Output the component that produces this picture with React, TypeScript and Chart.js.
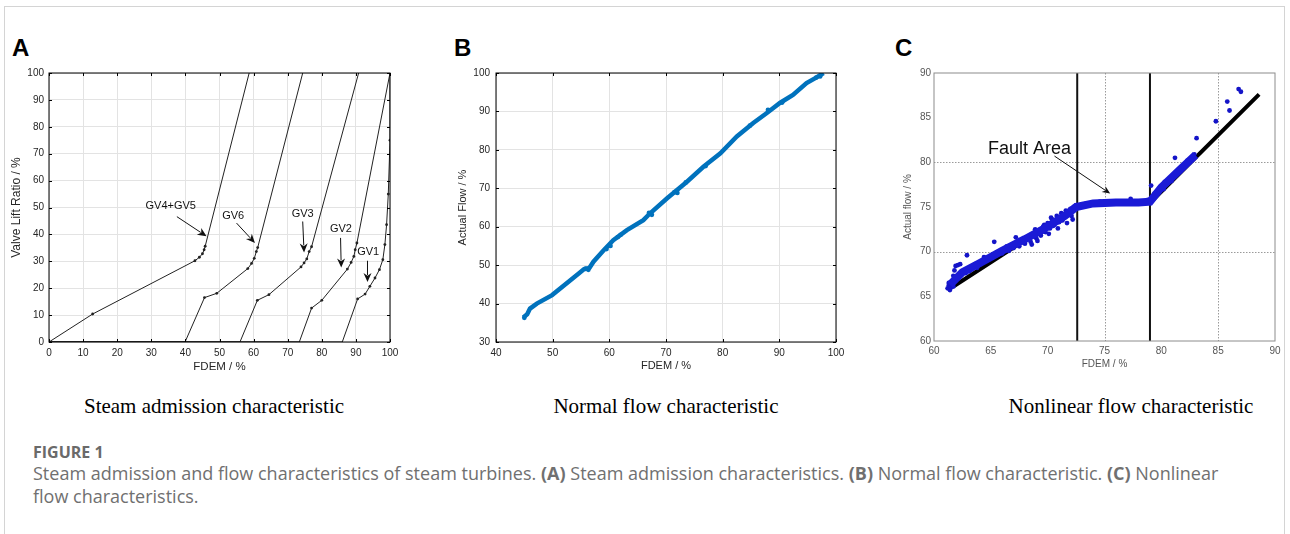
import React, { useEffect, useRef } from 'react';
import { Chart, registerables } from 'chart.js';

Chart.register(...registerables);

const SANS = '"Liberation Sans", Arial, Helvetica, sans-serif';

// ---------- Panel A : steam admission characteristic ----------
const A_TICKS = [0, 10, 20, 30, 40, 50, 60, 70, 80, 90, 100];
const A_GV45_X = [0, 12.8, 42.8, 44.1, 45.0, 45.5, 45.8, 58.7];
const A_GV45_Y = [0, 10.4, 30.2, 31.5, 32.8, 34.3, 35.6, 100];
const A_GV6_X = [0, 39.9, 45.6, 49.2, 58.3, 59.4, 60.2, 60.8, 61.2, 74.4];
const A_GV6_Y = [0, 0, 16.5, 18.1, 27.3, 29.2, 31.1, 33.6, 35.1, 100];
const A_GV3_X = [0, 56.0, 61.1, 64.5, 73.9, 74.8, 75.6, 76.3, 77.0, 90.8];
const A_GV3_Y = [0, 0, 15.5, 17.6, 27.9, 29.4, 30.9, 33.6, 35.4, 100];
const A_GV2_X = [0, 73.4, 77.0, 80.0, 87.5, 88.6, 89.4, 89.8, 90.3, 100];
const A_GV2_Y = [0, 0, 12.6, 15.5, 27.1, 29.6, 31.8, 34.3, 36.8, 100];
const A_GV1_X = [0, 86.0, 90.5, 92.7, 94.1, 95.6, 96.9, 97.9, 98.5, 99.0, 99.5, 100, 100];
const A_GV1_Y = [0, 0, 16.0, 17.8, 20.7, 23.8, 26.9, 30.6, 36.2, 43.6, 55.0, 75.0, 100];

const A_LABELS = ['GV4+GV5', 'GV6', 'GV3', 'GV2', 'GV1'];
const A_LABEL_X = [35.7, 54.0, 74.4, 85.6, 93.6];
const A_LABEL_Y = [50.4, 46.7, 47.7, 42.1, 33.5];
const A_ARROW_FROM_X = [37.5, 55.0, 74.4, 85.5, 93.4];
const A_ARROW_FROM_Y = [46.6, 44.2, 44.8, 38.7, 30.2];
const A_ARROW_TO_X = [46.2, 60.4, 74.8, 85.7, 93.4];
const A_ARROW_TO_Y = [39.3, 36.8, 33.3, 27.7, 22.3];

// ---------- Panel B : normal flow characteristic ----------
const B_X_TICKS = [40, 50, 60, 70, 80, 90, 100];
const B_Y_TICKS = [30, 40, 50, 60, 70, 80, 90, 100];
const B_FLOW_X = [44.8, 45.5, 46.0, 47.2, 49.9, 54.6, 55.5, 56.5, 57.2, 59.0, 60.7, 63.1, 66.0, 67.2, 70.2, 73.7, 76.6, 79.6, 82.5, 85.4, 87.8, 90.1, 92.4, 94.8, 96.5, 97.8];
const B_FLOW_Y = [36.4, 37.2, 38.7, 40.0, 42.2, 47.8, 48.9, 49.3, 50.9, 53.9, 56.5, 59.1, 61.7, 63.5, 67.4, 71.7, 75.6, 79.1, 83.5, 87.0, 89.6, 92.2, 94.3, 97.4, 98.8, 100];
const B_FUZZ_X = [45.0, 55.8, 56.3, 59.5, 60.2, 61.5, 62.0, 67.0, 67.5, 71.5, 72.0, 73.5, 77.0, 84.8, 88.0, 90.5, 96.5, 97.2];
const B_FUZZ_Y = [36.3, 49.1, 48.8, 54.2, 55.0, 57.3, 57.9, 63.6, 63.1, 69.0, 68.8, 71.5, 75.8, 86.3, 90.4, 92.3, 98.8, 99.1];

// ---------- Panel C : nonlinear flow characteristic ----------
const C_TICKS = [60, 65, 70, 75, 80, 85, 90];
const C_GRID_X = [75, 85];
const C_GRID_Y = [70, 80];
const C_SCATTER_X = [
  61.2, 61.3, 61.4, 61.5, 61.6, 61.3, 61.7, 61.8, 61.7, 61.8, 61.9, 62.1, 62.3, 62.0, 62.2, 62.5, 62.8, 62.9, 63.1, 63.3,
  63.5, 63.8, 64.0, 64.2, 64.5, 64.7, 65.0, 65.2, 65.3, 65.5, 65.8, 66.0, 66.3, 66.6, 66.8, 67.0, 67.2, 67.3, 67.5, 67.8,
  68.0, 68.3, 68.5, 68.8, 69.0, 69.2, 69.4, 69.6, 69.8, 70.0, 70.2, 70.4, 70.6, 70.8, 71.0, 71.2, 71.4, 71.6, 71.8, 72.0,
  72.2, 72.3, 72.5, 72.8, 73.1, 73.4, 73.7, 74.0, 74.3, 74.6, 74.9, 75.2, 75.5, 75.8, 76.1, 76.4, 76.7, 77.0, 77.3, 77.6,
  77.9, 78.2, 78.5, 78.8, 79.0, 79.1, 79.2, 79.4, 79.6, 79.8, 80.0, 80.2, 80.3, 80.5, 80.7, 80.9, 81.0, 81.2, 81.3, 81.5,
  81.7, 81.9, 82.1, 82.3, 82.5, 82.7, 82.9, 83.1, 84.8, 85.8, 86.0, 86.8, 87.0,
  68.6, 69.1, 69.5, 70.1, 70.5, 70.9, 71.3, 71.7, 72.1, 68.9, 69.7, 70.3, 63.6, 64.4, 66.4, 67.6
];
const C_SCATTER_Y = [
  65.9, 66.2, 65.7, 66.0, 66.3, 66.5, 66.1, 66.7, 67.3, 67.9, 68.4, 68.5, 68.6, 67.0, 67.4, 67.6, 67.6, 69.6, 67.8, 68.0,
  68.3, 68.2, 68.6, 68.9, 69.0, 69.2, 69.4, 69.7, 71.1, 69.6, 70.0, 69.8, 70.3, 70.1, 70.6, 70.4, 71.6, 70.9, 70.6, 71.2,
  70.9, 71.5, 71.1, 71.9, 71.5, 72.4, 71.8, 72.8, 72.2, 73.2, 72.6, 73.6, 73.0, 74.0, 73.3, 74.3, 73.9, 74.6, 74.1, 74.8,
  73.6, 75.0, 75.2, 75.1, 75.3, 75.4, 75.3, 75.5, 75.4, 75.6, 75.5, 75.6, 75.5, 75.6, 75.4, 75.6, 75.5, 75.5, 75.9, 75.4,
  75.5, 75.6, 75.4, 75.8, 75.5, 77.4, 76.0, 76.5, 76.6, 77.0, 77.3, 77.0, 77.8, 77.6, 78.1, 77.9, 78.5, 80.5, 78.8, 79.1,
  79.0, 79.6, 79.8, 80.2, 80.0, 80.6, 80.9, 82.7, 84.6, 86.8, 85.8, 88.2, 87.9,
  70.8, 71.2, 72.2, 72.0, 72.9, 72.6, 73.5, 73.2, 74.0, 72.5, 73.0, 73.8, 68.6, 69.4, 70.6, 71.3
];
const C_BAND_X = [61.4, 62.5, 64.0, 66.0, 68.0, 70.0, 71.5, 72.5, 74.0, 76.0, 78.0, 79.0, 80.0, 81.5, 83.0];
const C_BAND_Y = [66.3, 67.7, 68.7, 70.1, 71.4, 72.8, 74.0, 75.0, 75.4, 75.5, 75.5, 75.6, 77.2, 79.0, 80.8];
const C_FIT_X = [61.7, 72.5, 74.0, 76.0, 79.0, 88.6];
const C_FIT_Y = [66.1, 75.0, 75.3, 75.4, 75.45, 87.6];
const C_BOUNDARY_X = [72.6, 79.0];
const C_LABEL = ['Fault Area'];
const C_LABEL_X = [68.4];
const C_LABEL_Y = [81.5];
const C_ARROW_FROM_X = [70.6];
const C_ARROW_FROM_Y = [80.7];
const C_ARROW_TO_X = [75.5];
const C_ARROW_TO_Y = [76.5];

const pts = (xs: number[], ys: number[]) => xs.map((x, i) => ({ x, y: ys[i] }));

// ---------- plugins ----------
const boxPlugin = (id: string, color: string, lw: number, tickLen: number) => ({
  id,
  afterDatasetsDraw(chart: any) {
    const { ctx, chartArea: a, scales } = chart;
    ctx.save();
    ctx.strokeStyle = color;
    ctx.lineWidth = lw;
    ctx.strokeRect(a.left, a.top, a.right - a.left, a.bottom - a.top);
    if (tickLen > 0) {
      ctx.lineWidth = 1;
      ctx.beginPath();
      scales.x.ticks.forEach((t: any) => {
        const p = Math.round(scales.x.getPixelForValue(t.value)) + 0.5;
        ctx.moveTo(p, a.bottom); ctx.lineTo(p, a.bottom - tickLen);
        ctx.moveTo(p, a.top); ctx.lineTo(p, a.top + tickLen);
      });
      scales.y.ticks.forEach((t: any) => {
        const p = Math.round(scales.y.getPixelForValue(t.value)) + 0.5;
        ctx.moveTo(a.left, p); ctx.lineTo(a.left + tickLen, p);
        ctx.moveTo(a.right, p); ctx.lineTo(a.right - tickLen, p);
      });
      ctx.stroke();
    }
    ctx.restore();
  },
});

const dottedGridPlugin = (id: string, gx: number[], gy: number[]) => ({
  id,
  beforeDatasetsDraw(chart: any) {
    const { ctx, chartArea: a, scales } = chart;
    ctx.save();
    ctx.strokeStyle = '#9a9a9a';
    ctx.lineWidth = 1;
    ctx.setLineDash([1.5, 1.5]);
    ctx.beginPath();
    gx.forEach((v) => {
      const p = Math.round(scales.x.getPixelForValue(v)) + 0.5;
      ctx.moveTo(p, a.top); ctx.lineTo(p, a.bottom);
    });
    gy.forEach((v) => {
      const p = Math.round(scales.y.getPixelForValue(v)) + 0.5;
      ctx.moveTo(a.left, p); ctx.lineTo(a.right, p);
    });
    ctx.stroke();
    ctx.restore();
  },
});

const arrowPlugin = (
  id: string,
  labels: string[], tx: number[], ty: number[],
  fx: number[], fy: number[], ex: number[], ey: number[],
  font: string, headLen: number, headHalf: number
) => ({
  id,
  afterDatasetsDraw(chart: any) {
    const { ctx, scales: { x, y } } = chart;
    ctx.save();
    ctx.fillStyle = '#111';
    ctx.strokeStyle = '#111';
    ctx.lineWidth = 1;
    ctx.font = font;
    ctx.textAlign = 'center';
    ctx.textBaseline = 'middle';
    labels.forEach((l, i) => {
      ctx.fillText(l, x.getPixelForValue(tx[i]), y.getPixelForValue(ty[i]));
      const x1 = x.getPixelForValue(fx[i]);
      const y1 = y.getPixelForValue(fy[i]);
      const x2 = x.getPixelForValue(ex[i]);
      const y2 = y.getPixelForValue(ey[i]);
      const ang = Math.atan2(y2 - y1, x2 - x1);
      const bx = x2 - Math.cos(ang) * headLen;
      const by = y2 - Math.sin(ang) * headLen;
      ctx.beginPath();
      ctx.moveTo(x1, y1);
      ctx.lineTo(bx + Math.cos(ang) * 2, by + Math.sin(ang) * 2);
      ctx.stroke();
      ctx.beginPath();
      ctx.moveTo(x2, y2);
      ctx.lineTo(bx + Math.sin(ang) * headHalf, by - Math.cos(ang) * headHalf);
      ctx.lineTo(bx + Math.cos(ang) * headLen * 0.3, by + Math.sin(ang) * headLen * 0.3);
      ctx.lineTo(bx - Math.sin(ang) * headHalf, by + Math.cos(ang) * headHalf);
      ctx.closePath();
      ctx.fill();
    });
    ctx.restore();
  },
});

// ---------- shared scale builder ----------
const linScale = (opts: {
  min: number; max: number; step: number; ticks: number[];
  title: string; titleSize: number; titlePad: number; tickColor: string; titleColor: string;
  tickSize: number; tickPad: number; fit: (s: any) => void; grid: boolean;
}) => ({
  type: 'linear',
  min: opts.min,
  max: opts.max,
  afterBuildTicks: (s: any) => { s.ticks = opts.ticks.map((v) => ({ value: v })); },
  afterFit: opts.fit,
  border: { display: false },
  grid: { display: opts.grid, color: '#e3e3e3', lineWidth: 1, drawTicks: false },
  ticks: {
    stepSize: opts.step, autoSkip: false, maxRotation: 0, minRotation: 0, padding: opts.tickPad,
    color: opts.tickColor, font: { family: SANS, size: opts.tickSize },
  },
  title: {
    display: true, text: opts.title, color: opts.titleColor,
    font: { family: SANS, size: opts.titleSize },
    padding: { top: opts.titlePad, bottom: opts.titlePad },
  },
});

const baseOptions = (scales: any, pad: any) => ({
  animation: false,
  responsive: false,
  devicePixelRatio: 1,
  events: [],
  layout: { padding: pad },
  plugins: { legend: { display: false }, tooltip: { enabled: false } },
  scales,
});

// ---------- configs ----------
const lineDs = (xs: number[], ys: number[], color: string, width: number, dots: boolean) => ({
  type: 'line',
  data: pts(xs, ys),
  showLine: true,
  borderColor: color,
  borderWidth: width,
  backgroundColor: color,
  pointRadius: dots ? (c: any) => (c.raw && c.raw.y > 0 && c.raw.y < 100 ? 1.4 : 0) : 0,
  pointBorderWidth: 0,
  tension: 0,
  fill: false,
});

const configA = () => ({
  type: 'scatter',
  data: {
    datasets: [
      lineDs(A_GV45_X, A_GV45_Y, '#222', 1, true),
      lineDs(A_GV6_X, A_GV6_Y, '#222', 1, true),
      lineDs(A_GV3_X, A_GV3_Y, '#222', 1, true),
      lineDs(A_GV2_X, A_GV2_Y, '#222', 1, true),
      lineDs(A_GV1_X, A_GV1_Y, '#222', 1, true),
    ],
  },
  options: baseOptions(
    {
      x: linScale({ min: 0, max: 100, step: 10, ticks: A_TICKS, title: 'FDEM / %', titleSize: 11.5, titlePad: 6, tickColor: '#262626', titleColor: '#262626', tickSize: 10, tickPad: 5, fit: (s: any) => { s.height = 38; }, grid: true }),
      y: linScale({ min: 0, max: 100, step: 10, ticks: A_TICKS, title: 'Valve Lift Ratio / %', titleSize: 12, titlePad: 9, tickColor: '#262626', titleColor: '#262626', tickSize: 10, tickPad: 5, fit: (s: any) => { s.width = 49; }, grid: true }),
    },
    { left: 0, top: 13, right: 20, bottom: 0 }
  ),
  plugins: [
    boxPlugin('boxA', '#000', 1, 3),
    arrowPlugin('annA', A_LABELS, A_LABEL_X, A_LABEL_Y, A_ARROW_FROM_X, A_ARROW_FROM_Y, A_ARROW_TO_X, A_ARROW_TO_Y, `11px ${SANS}`, 9, 4),
  ],
});

const configB = () => ({
  type: 'scatter',
  data: {
    datasets: [
      lineDs(B_FLOW_X, B_FLOW_Y, '#0072BD', 4.5, false),
      {
        type: 'scatter',
        data: pts(B_FUZZ_X, B_FUZZ_Y),
        backgroundColor: '#0072BD',
        borderWidth: 0,
        pointRadius: 2.4,
      },
    ],
  },
  options: baseOptions(
    {
      x: linScale({ min: 40, max: 100, step: 10, ticks: B_X_TICKS, title: 'FDEM / %', titleSize: 11, titlePad: 7, tickColor: '#262626', titleColor: '#262626', tickSize: 10, tickPad: 5, fit: (s: any) => { s.height = 38; }, grid: true }),
      y: linScale({ min: 30, max: 100, step: 10, ticks: B_Y_TICKS, title: 'Actual Flow / %', titleSize: 11, titlePad: 16, tickColor: '#262626', titleColor: '#262626', tickSize: 10, tickPad: 6, fit: (s: any) => { s.width = 56; }, grid: true }),
    },
    { left: 0, top: 13, right: 14, bottom: 0 }
  ),
  plugins: [boxPlugin('boxB', '#000', 1, 3)],
});

const configC = () => ({
  type: 'scatter',
  data: {
    datasets: [
      lineDs(C_BAND_X, C_BAND_Y, '#1a1ad6', 8, false),
      {
        type: 'scatter',
        data: pts(C_SCATTER_X, C_SCATTER_Y),
        backgroundColor: '#1414c8',
        borderWidth: 0,
        pointRadius: 2.4,
      },
      lineDs(C_FIT_X, C_FIT_Y, '#000', 4, false),
      lineDs([C_BOUNDARY_X[0], C_BOUNDARY_X[0]], [60, 90], '#111', 2, false),
      lineDs([C_BOUNDARY_X[1], C_BOUNDARY_X[1]], [60, 90], '#111', 2, false),
    ],
  },
  options: baseOptions(
    {
      x: linScale({ min: 60, max: 90, step: 5, ticks: C_TICKS, title: 'FDEM / %', titleSize: 10, titlePad: 10, tickColor: '#555', titleColor: '#555', tickSize: 10, tickPad: 4, fit: (s: any) => { s.height = 39; }, grid: false }),
      y: linScale({ min: 60, max: 90, step: 5, ticks: C_TICKS, title: 'Actual flow / %', titleSize: 10, titlePad: 22, tickColor: '#555', titleColor: '#555', tickSize: 10, tickPad: 3, fit: (s: any) => { s.width = 54; }, grid: false }),
    },
    { left: 0, top: 13, right: 10, bottom: 0 }
  ),
  plugins: [
    dottedGridPlugin('gridC', C_GRID_X, C_GRID_Y),
    boxPlugin('boxC', '#8c8c8c', 1, 0),
    arrowPlugin('annC', C_LABEL, C_LABEL_X, C_LABEL_Y, C_ARROW_FROM_X, C_ARROW_FROM_Y, C_ARROW_TO_X, C_ARROW_TO_Y, `18px ${SANS}`, 8, 3.5),
  ],
});

function Panel({ left, top, width, height, make }: { left: number; top: number; width: number; height: number; make: () => any }) {
  const ref = useRef<HTMLCanvasElement | null>(null);
  useEffect(() => {
    if (!ref.current) return;
    const chart = new Chart(ref.current, make());
    return () => chart.destroy();
  }, []);
  return (
    <div style={{ position: 'absolute', left, top, width, height }}>
      <canvas ref={ref} width={width} height={height} style={{ width, height, display: 'block' }} />
    </div>
  );
}

const letterStyle = (left: number): React.CSSProperties => ({
  position: 'absolute', left, top: 36, font: `bold 24px/24px ${SANS}`, color: '#000',
});

const subCaption = (center: number): React.CSSProperties => ({
  position: 'absolute', left: center - 200, width: 400, top: 396, textAlign: 'center',
  font: '21px/21px "Liberation Serif", "Times New Roman", serif', color: '#000', whiteSpace: 'nowrap',
});

export default function App() {
  return (
    <div style={{ position: 'absolute', left: 0, top: 0, width: 1290, height: 534, background: '#fff', overflow: 'hidden' }}>
      <div style={{ position: 'absolute', left: 4, top: 6, width: 1281, height: 560, border: '1px solid #d4d4d4', boxSizing: 'border-box' }} />
      <div style={letterStyle(12)}>A</div>
      <div style={letterStyle(454)}>B</div>
      <div style={letterStyle(895)}>C</div>
      <Panel left={0} top={60} width={410} height={320} make={configA} />
      <Panel left={440} top={60} width={410} height={320} make={configB} />
      <Panel left={880} top={60} width={405} height={320} make={configC} />
      <div style={subCaption(214)}>Steam admission characteristic</div>
      <div style={subCaption(666)}>Normal flow characteristic</div>
      <div style={subCaption(1131)}>Nonlinear flow characteristic</div>
      <div style={{ position: 'absolute', left: 33, top: 443, font: 'bold 16px/18px "Open Sans", sans-serif', color: '#6a6a6a' }}>FIGURE 1</div>
      <div style={{ position: 'absolute', left: 33, top: 462, font: '18px/23px "Open Sans", sans-serif', color: '#707070', whiteSpace: 'nowrap' }}>
        Steam admission and flow characteristics of steam turbines. <b>(A)</b> Steam admission characteristics. <b>(B)</b> Normal flow characteristic. <b>(C)</b> Nonlinear
        <br />
        flow characteristics.
      </div>
    </div>
  );
}
